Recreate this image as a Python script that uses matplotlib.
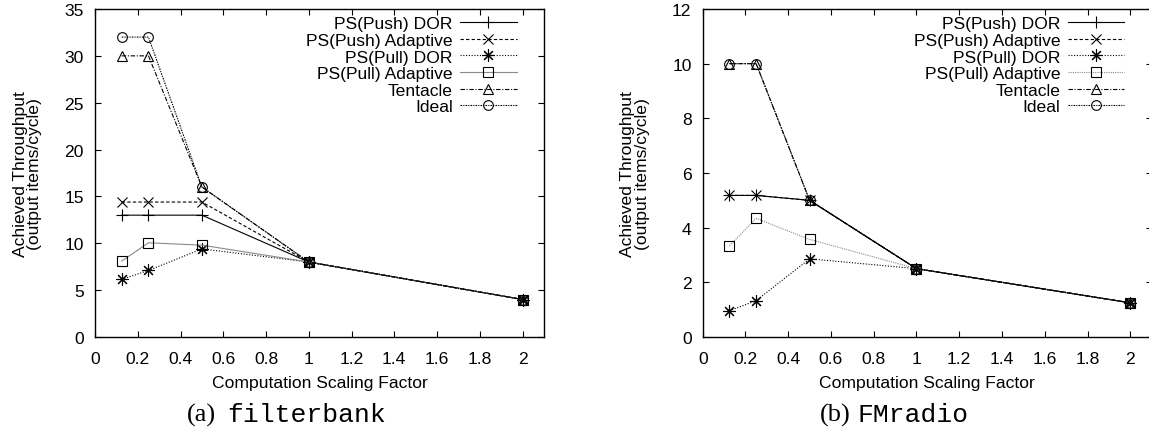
import matplotlib
matplotlib.use("Agg")
import matplotlib.pyplot as plt

# computation scaling factors (shared x values)
scale = [0.125, 0.25, 0.5, 1, 2]

series_names = ["PS(Push) DOR", "PS(Push) Adaptive", "PS(Pull) DOR",
                "PS(Pull) Adaptive", "Tentacle", "Ideal"]

# (a) filterbank
fb_push_dor = [13.0, 13.0, 13.0, 8, 4]
fb_push_adaptive = [14.4, 14.4, 14.4, 8, 4]
fb_pull_dor = [6.15, 7.1, 9.4, 8, 4]
fb_pull_adaptive = [8.1, 10.05, 9.8, 8, 4]
fb_tentacle = [30, 30, 16, 8, 4]
fb_ideal = [32, 32, 16, 8, 4]

# (b) FMradio
fm_push_dor = [5.18, 5.18, 5.0, 2.5, 1.25]
fm_push_adaptive = [5.18, 5.18, 5.0, 2.5, 1.25]
fm_pull_dor = [0.96, 1.33, 2.86, 2.5, 1.25]
fm_pull_adaptive = [3.34, 4.34, 3.57, 2.5, 1.25]
fm_tentacle = [10, 10, 5, 2.5, 1.25]
fm_ideal = [10, 10, 5, 2.5, 1.25]

x_ticks = [0, 0.2, 0.4, 0.6, 0.8, 1, 1.2, 1.4, 1.6, 1.8, 2]
x_tick_labels = ["0", "0.2", "0.4", "0.6", "0.8", "1", "1.2", "1.4", "1.6", "1.8", "2"]

plt.rcParams["font.family"] = ["Liberation Sans", "DejaVu Sans"]

FS = 12.6
star8 = (8, 2, 0)
styles = [
    dict(color="black", ls="-", marker="+", ms=8),
    dict(color="black", ls=(0, (3, 2)), marker="x", ms=7),
    dict(color="black", ls=(0, (1, 1.5)), marker=star8, ms=9),
    dict(color="#8a8a8a", ls="-", marker="s", ms=7, mec="black"),
    dict(color="black", ls=(0, (4, 1.5, 1, 1.5)), marker="^", ms=7),
    dict(color="black", ls=(0, (1.5, 1, 1, 1)), marker="o", ms=7),
]


def draw_panel(ax, data, ymax, ystep, pull_adapt_ls):
    for name, ys, st in zip(series_names, data, styles):
        st = dict(st)
        if name == "PS(Pull) Adaptive":
            st["ls"] = pull_adapt_ls
        ax.plot(scale, ys, label=name, lw=0.8, fillstyle="none", mew=0.8, **st)
    ax.set_xlim(0, 2.1)
    ax.set_ylim(0, ymax)
    ax.set_xticks(x_ticks)
    ax.set_xticklabels(x_tick_labels)
    ax.set_yticks(range(0, ymax + 1, ystep))
    ax.tick_params(direction="in", top=True, right=True, length=4, width=0.8,
                   labelsize=FS)
    ax.tick_params(axis="x", pad=10)
    ax.tick_params(axis="y", pad=8)
    for sp in ax.spines.values():
        sp.set_linewidth(1.0)
    ax.set_xlabel("Computation Scaling Factor", fontsize=FS)
    ax.xaxis.set_label_coords(0.5, -0.117)
    ax.set_ylabel("Achieved Throughput\n(output items/cycle)", fontsize=FS, linespacing=0.95)
    ax.yaxis.set_label_coords(-0.118, 0.5)
    ax.legend(loc="upper right", frameon=False, markerfirst=False, fontsize=FS,
              handlelength=3.25, handletextpad=0.4, labelspacing=0.08,
              borderaxespad=0.0, bbox_to_anchor=(0.955, 1.0))


fig = plt.figure(figsize=(11.49, 4.31), dpi=100)
ax1 = fig.add_axes([0.0827, 0.2158, 0.3907, 0.761])
ax2 = fig.add_axes([0.6116, 0.2158, 0.3907, 0.761])

draw_panel(ax1, [fb_push_dor, fb_push_adaptive, fb_pull_dor, fb_pull_adaptive,
                 fb_tentacle, fb_ideal], 35, 5, "-")
draw_panel(ax2, [fm_push_dor, fm_push_adaptive, fm_pull_dor, fm_pull_adaptive,
                 fm_tentacle, fm_ideal], 12, 2, (0, (1, 1)))

W, H = 1149, 431
cap_y = 1 - 422 / H
fig.text(187 / W, cap_y, "(a)", family="Liberation Serif", fontsize=19, va="baseline")
fig.text(227 / W, cap_y, "filterbank", family="Liberation Mono", fontsize=19, va="baseline")
fig.text(820 / W, cap_y, "(b)", family="Liberation Serif", fontsize=19, va="baseline")
fig.text(857 / W, cap_y, "FMradio", family="Liberation Mono", fontsize=19, va="baseline")

fig.savefig("out.png", dpi=100)
